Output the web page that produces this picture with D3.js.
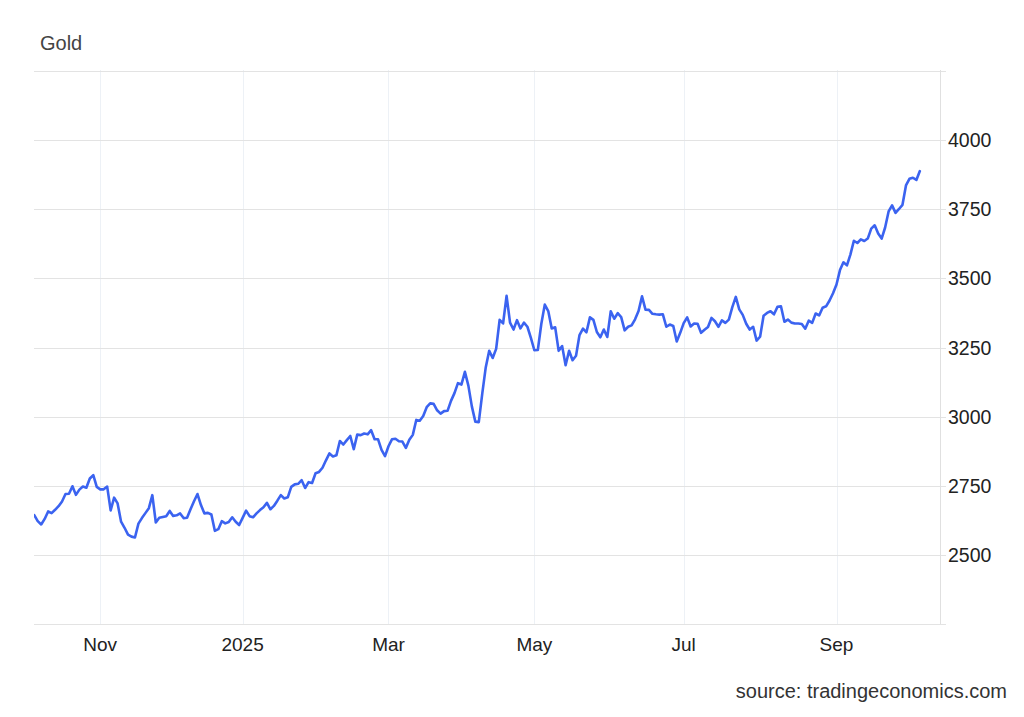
<!DOCTYPE html>
<html>
<head>
<meta charset="utf-8">
<script src="https://cdn.jsdelivr.net/npm/d3@7"></script>
<style>
  html, body { margin: 0; padding: 0; background: #ffffff; }
  svg { display: block; font-family: "Liberation Sans", Arial, Helvetica, sans-serif; }
</style>
</head>
<body>
<svg id="chart" width="1024" height="717"></svg>
<script>
// ---------- data ----------
const seriesName = "Gold";
const sourceText = "source: tradingeconomics.com";
const firstDay = "2024-10-07";
const lastDay = "2025-10-03";
const closedDays = ["2024-12-25", "2024-12-26", "2025-02-17", "2025-04-18"];

const oct2024 = [2644, 2622, 2610, 2630, 2657, 2651, 2663, 2676, 2693, 2720, 2721, 2748, 2717, 2736, 2747, 2743, 2776, 2788, 2746];
const nov2024 = [2737, 2737, 2747, 2661, 2707, 2686, 2620, 2598, 2573, 2566, 2563, 2613, 2633, 2651, 2669, 2716, 2617, 2634, 2637, 2640, 2659];
const dec2024 = [2641, 2643, 2650, 2633, 2634, 2665, 2694, 2720, 2680, 2650, 2652, 2646, 2587, 2593, 2622, 2614, 2619, 2636, 2620, 2608];
const jan2025 = [2634, 2660, 2640, 2636, 2650, 2662, 2672, 2688, 2665, 2677, 2696, 2716, 2704, 2708, 2746, 2755, 2757, 2770, 2742, 2763, 2760, 2795, 2800];
const feb2025 = [2815, 2842, 2867, 2856, 2860, 2912, 2899, 2915, 2930, 2882, 2935, 2933, 2939, 2936, 2951, 2918, 2918, 2880, 2857];
const mar2025 = [2893, 2918, 2920, 2911, 2910, 2887, 2916, 2934, 2988, 2985, 3002, 3034, 3048, 3046, 3023, 3011, 3020, 3021, 3057, 3085, 3121];
const apr2025 = [3116, 3162, 3112, 3037, 2982, 2980, 3083, 3178, 3238, 3212, 3245, 3350, 3337, 3437, 3340, 3315, 3349, 3319, 3340, 3325, 3285];
const may2025 = [3240, 3241, 3335, 3405, 3382, 3319, 3323, 3238, 3255, 3186, 3238, 3204, 3220, 3295, 3318, 3305, 3359, 3350, 3306, 3287, 3315, 3288];
const jun2025 = [3381, 3354, 3374, 3360, 3312, 3325, 3330, 3352, 3382, 3435, 3387, 3386, 3372, 3370, 3369, 3370, 3325, 3333, 3328, 3272, 3303];
const jul2025 = [3338, 3359, 3326, 3337, 3336, 3303, 3314, 3324, 3357, 3345, 3325, 3348, 3339, 3351, 3396, 3433, 3388, 3368, 3336, 3315, 3325, 3275, 3289];
const aug2025 = [3365, 3375, 3381, 3370, 3397, 3399, 3343, 3351, 3340, 3337, 3337, 3335, 3318, 3347, 3339, 3373, 3366, 3394, 3399, 3420, 3446];
const sep2025 = [3478, 3530, 3558, 3547, 3586, 3636, 3628, 3641, 3635, 3644, 3680, 3692, 3662, 3644, 3684, 3742, 3764, 3737, 3751, 3766, 3836, 3860];
const oct2025 = [3864, 3856, 3888];

const xTickMonths = ["2024-11", "2025-01", "2025-03", "2025-05", "2025-07", "2025-09"];
const xTickLabels = ["Nov", "2025", "Mar", "May", "Jul", "Sep"];
const yGridValues = [2250, 2500, 2750, 3000, 3250, 3500, 3750, 4000, 4250];
const yTickLabels = [2500, 2750, 3000, 3250, 3500, 3750, 4000];

// ---------- build trading-day table ----------
const values = [].concat(oct2024, nov2024, dec2024, jan2025, feb2025, mar2025,
  apr2025, may2025, jun2025, jul2025, aug2025, sep2025, oct2025);
const fmt = d3.utcFormat("%Y-%m-%d");
const closedSet = new Set(closedDays);
const tradingDays = d3.utcDay.range(new Date(firstDay + "T00:00:00Z"), d3.utcDay.offset(new Date(lastDay + "T00:00:00Z"), 1))
  .filter(d => d.getUTCDay() !== 0 && d.getUTCDay() !== 6 && !closedSet.has(fmt(d)));
const data = tradingDays.map((d, i) => ({ i, date: d, value: values[i] })).filter(d => d.value !== undefined);

// ---------- layout ----------
const svg = d3.select("#chart");
const plot = { left: 34, right: 940, top: 70, bottom: 624 };

// ordinal-style x axis: trading-day index
const x = d3.scaleLinear().domain([0, 260.8]).range([34.25, 940]);
const y = d3.scaleLinear().domain([2250, 4250]).range([624, 71]);

const monthKey = d3.utcFormat("%Y-%m");
const xTicks = xTickMonths.map((m, k) => {
  const first = data.find(d => monthKey(d.date) === m);
  return { label: xTickLabels[k], i: first.i };
});

// vertical gridlines
svg.append("g").selectAll("line").data(xTicks).join("line")
  .attr("x1", d => Math.round(x(d.i)) + 0.5).attr("x2", d => Math.round(x(d.i)) + 0.5)
  .attr("y1", plot.top).attr("y2", plot.bottom)
  .attr("stroke", "#edf1f6").attr("stroke-width", 1);

// horizontal gridlines (+ small tick to the right)
svg.append("g").selectAll("line").data(yGridValues).join("line")
  .attr("x1", plot.left).attr("x2", plot.right + 6)
  .attr("y1", d => Math.round(y(d)) + 0.5).attr("y2", d => Math.round(y(d)) + 0.5)
  .attr("stroke", "#e3e3e3").attr("stroke-width", 1);

// right axis line
svg.append("line")
  .attr("x1", plot.right + 0.5).attr("x2", plot.right + 0.5)
  .attr("y1", plot.top).attr("y2", plot.bottom)
  .attr("stroke", "#e0e0e0").attr("stroke-width", 1);

// clip
svg.append("clipPath").attr("id", "clip").append("rect")
  .attr("x", plot.left).attr("y", plot.top - 5).attr("width", plot.right - plot.left).attr("height", plot.bottom - plot.top + 5);

// line
const line = d3.line().x(d => x(d.i)).y(d => y(d.value)).curve(d3.curveLinear);
svg.append("path").datum(data)
  .attr("clip-path", "url(#clip)")
  .attr("d", line)
  .attr("fill", "none")
  .attr("stroke", "#3b63f0")
  .attr("stroke-width", 2.6)
  .attr("stroke-linejoin", "round")
  .attr("stroke-linecap", "round");

// y labels
svg.append("g").selectAll("text").data(yTickLabels).join("text")
  .attr("x", 948).attr("y", d => y(d)).attr("dy", "0.36em")
  .attr("font-size", 19.5).attr("fill", "#222")
  .text(d => d);

// x labels
svg.append("g").selectAll("text").data(xTicks).join("text")
  .attr("x", d => x(d.i)).attr("y", 651)
  .attr("text-anchor", "middle")
  .attr("font-size", 19).attr("fill", "#222")
  .text(d => d.label);

// title
svg.append("text").attr("x", 40).attr("y", 50)
  .attr("font-size", 20).attr("fill", "#444").text(seriesName);

// source
svg.append("text").attr("x", 1007).attr("y", 698)
  .attr("text-anchor", "end").attr("font-size", 20).attr("fill", "#333")
  .text(sourceText);
</script>
</body>
</html>
